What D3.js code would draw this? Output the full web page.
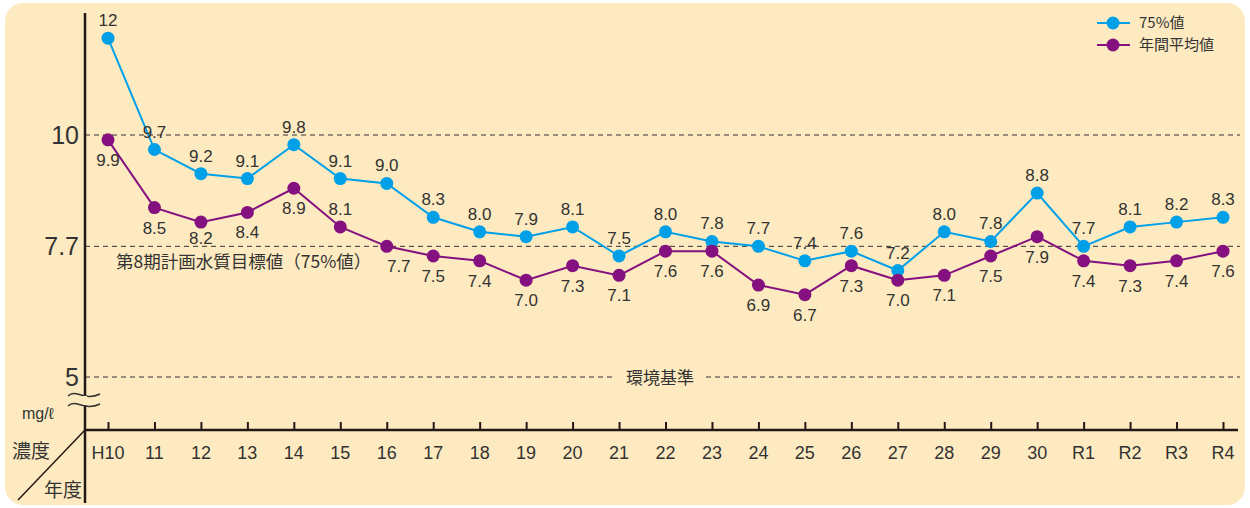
<!DOCTYPE html>
<html>
<head lang="ja">
	<meta charset="UTF-8">
	<title>水質の推移</title>
	<style>
	body { margin: 0; background: #fff; }
	.num { font-family: "Liberation Sans", Arial, sans-serif; fill: #333; }
	.jp { font-family: "Noto Sans CJK JP", sans-serif; fill: #333; }
	</style>
	<script src="https://cdn.jsdelivr.net/npm/d3@7"></script>
</head>
<body>
<script>
	var years = ["H10","11","12","13","14","15","16","17","18","19","20","21","22","23","24","25","26","27","28","29","30","R1","R2","R3","R4"];
	var p75 = [12, 9.7, 9.2, 9.1, 9.8, 9.1, 9.0, 8.3, 8.0, 7.9, 8.1, 7.5, 8.0, 7.8, 7.7, 7.4, 7.6, 7.2, 8.0, 7.8, 8.8, 7.7, 8.1, 8.2, 8.3];
	var avg = [9.9, 8.5, 8.2, 8.4, 8.9, 8.1, 7.7, 7.5, 7.4, 7.0, 7.3, 7.1, 7.6, 7.6, 6.9, 6.7, 7.3, 7.0, 7.1, 7.5, 7.9, 7.4, 7.3, 7.4, 7.6];
	var yTicks = [10, 7.7, 5];
	var seriesNames = ["75%値", "年間平均値"];
	var colors = ["#00a0e9", "#84117f"];

	var width = 1250, height = 508;
	var svg = d3.select("body").append("svg")
		.attr("width", width)
		.attr("height", height);

	// background panel
	svg.append("rect")
		.attr("x", 5).attr("y", 3)
		.attr("width", 1240).attr("height", 502)
		.attr("rx", 18)
		.attr("fill", "#fdeac0");

	var x = d3.scalePoint().domain(years).range([108, 1223]);
	var y = d3.scaleLinear().domain([5, 10]).range([377, 135]);
	var axisX = 85, axisY = 430;

	// dashed reference lines
	svg.selectAll(".ref")
		.data(yTicks)
		.enter().append("line")
		.attr("x1", axisX).attr("x2", 1240)
		.attr("y1", function(d){ return y(d); })
		.attr("y2", function(d){ return y(d); })
		.attr("stroke", "#333")
		.attr("stroke-width", 1)
		.attr("stroke-dasharray", "5,4");

	svg.selectAll(".ytick")
		.data(yTicks)
		.enter().append("text")
		.attr("class", "num")
		.attr("x", 79)
		.attr("y", function(d){ return y(d) + 9; })
		.attr("text-anchor", "end")
		.attr("font-size", 25)
		.text(function(d){ return d; });

	// environment standard label with gap
	svg.append("rect")
		.attr("x", 616).attr("y", y(5) - 10)
		.attr("width", 88).attr("height", 20)
		.attr("fill", "#fdeac0");
	svg.append("text")
		.attr("class", "jp")
		.attr("x", 660).attr("y", y(5) + 7)
		.attr("text-anchor", "middle")
		.attr("font-size", 17)
		.text("環境基準");

	svg.append("text")
		.attr("class", "jp")
		.attr("x", 116).attr("y", y(7.7) + 22)
		.attr("font-size", 17.5)
		.text("第8期計画水質目標値（75%値）");

	// axes
	svg.append("line")
		.attr("x1", axisX).attr("x2", axisX)
		.attr("y1", 13).attr("y2", 503)
		.attr("stroke", "#231815").attr("stroke-width", 2.5);

	var xAxis = d3.axisTop(x).tickSize(8).tickFormat("");
	var gx = svg.append("g")
		.attr("transform", "translate(0," + axisY + ")")
		.call(xAxis);
	gx.select(".domain").remove();
	gx.selectAll(".tick line").attr("stroke", "#231815").attr("stroke-width", 2);
	svg.append("line")
		.attr("x1", axisX).attr("x2", 1238)
		.attr("y1", axisY).attr("y2", axisY)
		.attr("stroke", "#231815").attr("stroke-width", 2.5);

	svg.selectAll(".xlab")
		.data(years)
		.enter().append("text")
		.attr("class", "num")
		.attr("x", function(d){ return x(d); })
		.attr("y", 459)
		.attr("text-anchor", "middle")
		.attr("font-size", 18)
		.text(function(d){ return d; });

	// axis break
	[396, 406].forEach(function(by){
		svg.append("path")
			.attr("d", "M68," + by + " C76," + (by - 8) + " 84," + (by + 6) + " 100," + (by - 2))
			.attr("fill", "none")
			.attr("stroke", "#333")
			.attr("stroke-width", 1.5);
	});
	svg.append("rect")
		.attr("x", 83).attr("y", 396).attr("width", 4).attr("height", 9)
		.attr("fill", "#fdeac0");

	svg.append("text").attr("class", "num")
		.attr("x", 22).attr("y", 419).attr("font-size", 16)
		.text("mg/ℓ");
	svg.append("text").attr("class", "jp")
		.attr("x", 12).attr("y", 458).attr("font-size", 19)
		.text("濃度");
	svg.append("text").attr("class", "jp")
		.attr("x", 44).attr("y", 497).attr("font-size", 19)
		.text("年度");
	svg.append("line")
		.attr("x1", 18).attr("y1", 500).attr("x2", axisX).attr("y2", axisY)
		.attr("stroke", "#231815").attr("stroke-width", 1.5);

	// series
	var line = d3.line()
		.x(function(d, i){ return x(years[i]); })
		.y(function(d){ return y(d); });

	// label placement: series 0 above, series 1 below (a few exceptions)
	function labX(s, i){
		if (s === 1 && i === 6) return x(years[i]) + 12;
		return x(years[i]);
	}
	function labY(s, i, d){
		if (s === 0) return y(d) - 12;
		if (i === 5) return y(d) - 12;
		if (i === 2) return y(d) + 22;
		return y(d) + 26;
	}

	var series = [p75, avg];
	series.forEach(function(vals, s){
		svg.append("path")
			.datum(vals)
			.attr("d", line)
			.attr("fill", "none")
			.attr("stroke", colors[s])
			.attr("stroke-width", 2);
		svg.selectAll(".dot" + s)
			.data(vals)
			.enter().append("circle")
			.attr("cx", function(d, i){ return x(years[i]); })
			.attr("cy", function(d){ return y(d); })
			.attr("r", 6.5)
			.attr("fill", colors[s]);
		svg.selectAll(".lab" + s)
			.data(vals)
			.enter().append("text")
			.attr("class", "num")
			.attr("x", function(d, i){ return labX(s, i); })
			.attr("y", function(d, i){ return labY(s, i, d); })
			.attr("text-anchor", "middle")
			.attr("font-size", 17)
			.text(function(d){ return d === 12 ? "12" : d.toFixed(1); });
	});

	// legend
	seriesNames.forEach(function(name, s){
		var ly = 23 + s * 22;
		svg.append("line")
			.attr("x1", 1097).attr("x2", 1130)
			.attr("y1", ly).attr("y2", ly)
			.attr("stroke", colors[s]).attr("stroke-width", 2);
		svg.append("circle")
			.attr("cx", 1113).attr("cy", ly).attr("r", 6.5)
			.attr("fill", colors[s]);
		svg.append("text")
			.attr("class", "jp")
			.attr("x", 1139).attr("y", ly + 5)
			.attr("font-size", 15)
			.text(name);
	});
</script>
</body>
</html>
